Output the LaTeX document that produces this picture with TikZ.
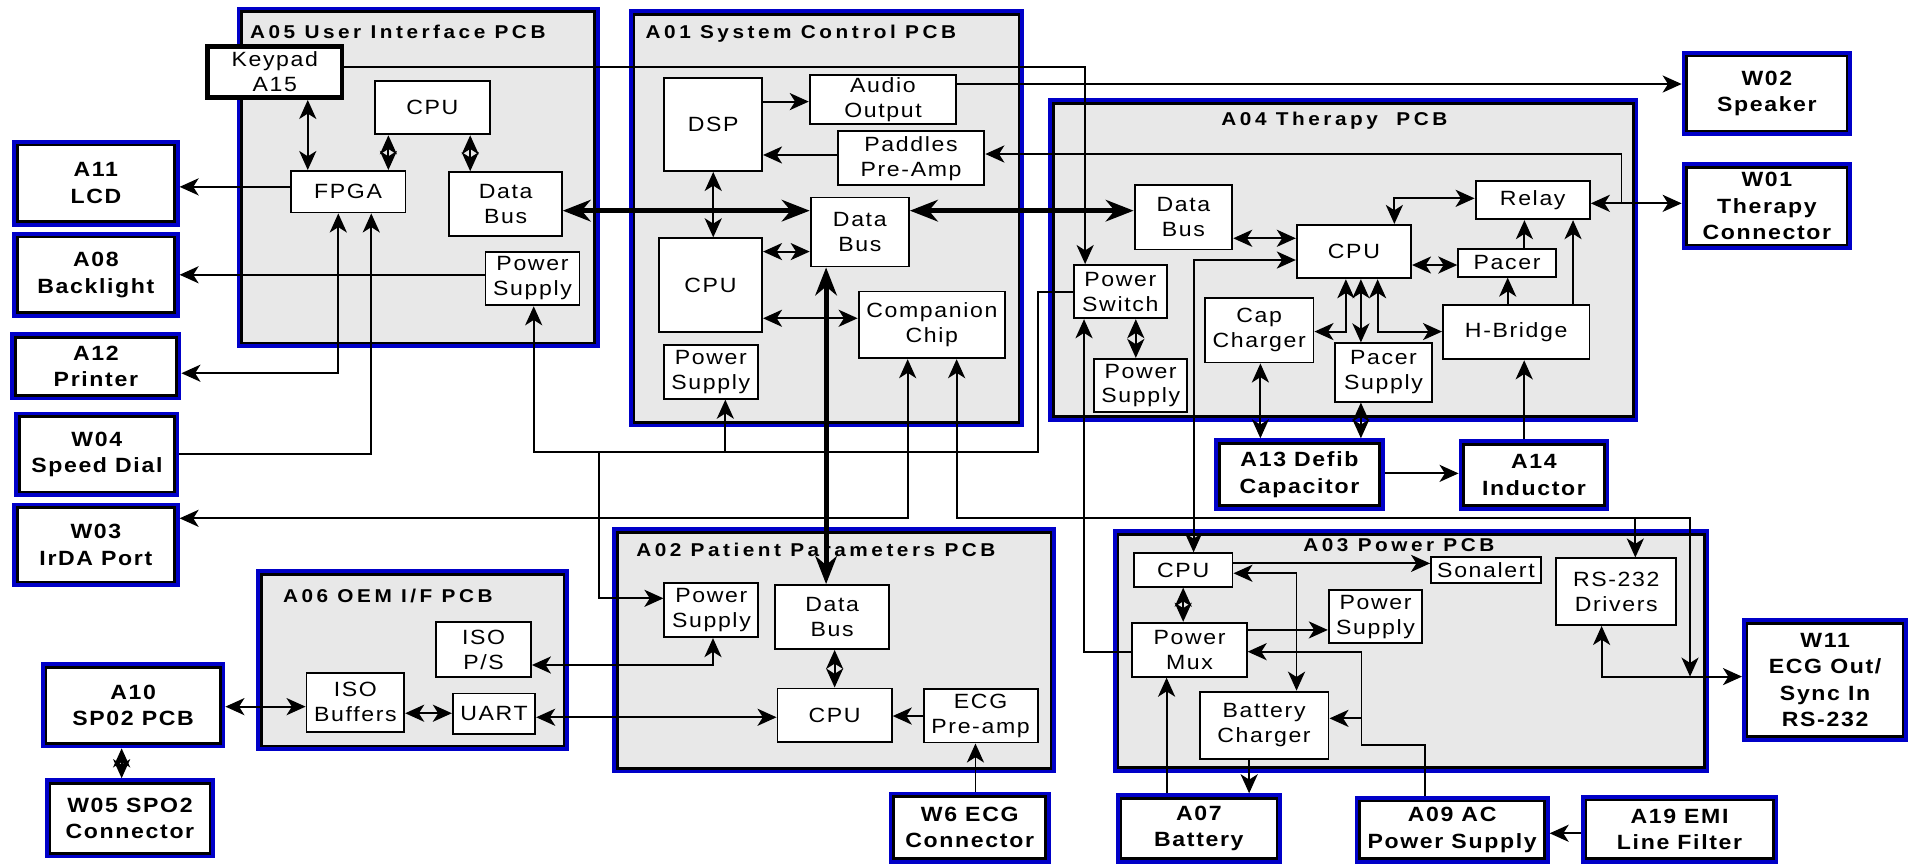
\documentclass[tikz,border=0pt]{standalone}
\usepackage{fontspec}
\setmainfont[FakeStretch=1.12,LetterSpace=8]{Liberation Sans}
\newfontfamily\ttlfont[FakeStretch=1.12,LetterSpace=19]{Liberation Sans}
\usetikzlibrary{arrows.meta}
\definecolor{pcbblue}{RGB}{0,0,200}
\definecolor{boardgray}{gray}{0.91}
\tikzset{
  sz/.style 2 args={
    minimum width = #1*0.25mm,
    minimum height = #2*0.25mm
  },
  fsz/.style 2 args={
    minimum width = (#1-3)*0.25mm,
    minimum height = (#2-3)*0.25mm
  },
}
\tikzset{
  blk/.style={
    shape = rectangle,
    draw,
    fill = white,
    line width = 1.1pt,
    inner sep = 0pt,
    align = center,
    font = \fontsize{12}{14.5}\selectfont
  },
  keypad/.style={
    blk,
    line width = 2.6pt
  },
  frame/.style={
    shape = rectangle,
    draw = pcbblue,
    line width = 2.2pt,
    inner sep = 0pt,
    path picture={\draw[draw=black,line width=5.2pt] (path picture bounding box.south west) rectangle (path picture bounding box.north east);}
  },
  board/.style={
    frame,
    fill = boardgray
  },
  ext/.style={
    frame,
    fill = white,
    align = center,
    font = \bfseries\fontsize{12}{15.5}\selectfont
  },
  ttl/.style={
    inner sep = 0pt,
    font = \ttlfont\bfseries\fontsize{10.8}{12}\selectfont
  },
  ln/.style={
    line width = 1.1pt,
    >={Stealth[length=3.9mm,width=3.5mm,inset=1.1mm]}
  },
  ar/.style={ln, ->},
  dar/.style={ln, <->},
  bus/.style={
    line width = 2.9pt,
    <->,
    >={Stealth[length=5.7mm,width=4.4mm,inset=1.8mm]}
  },
}

\begin{document}
\begin{tikzpicture}[x=0.25mm,y=-0.25mm]
\useasboundingbox (0,0) rectangle (1568,707);

% boards
\node[board, fsz={297.2}{279.5}] (a05) at (342.4,145.25) {};
\node[board, fsz={323.5}{342.3}] (a01) at (676.75,178.75) {};
\node[board, fsz={482.9}{264.7}] (a04) at (1099.95,212.85) {};
\node[board, fsz={363.5}{201.4}] (a02) at (683.05,532.5) {};
\node[board, fsz={256.2}{148.7}] (a06) at (337.9,540.55) {};
\node[board, fsz={488.2}{199.2}] (a03) at (1155.4,533) {};

\node[ttl, anchor=base west] (t05) at (204.5,31.4) {A05 User Interface PCB};
\node[ttl, anchor=base west] (t01) at (528.4,31.4) {A01 System Control PCB};
\node[ttl, anchor=base] (t04) at (1092.6,103.1) {A04 Therapy\ \ PCB};
\node[ttl, anchor=base west] (t02) at (520.7,455.3) {A02 Patient Parameters PCB};
\node[ttl, anchor=base west] (t06) at (231.5,493.2) {A06 OEM I/F PCB};
\node[ttl, anchor=base] (t03) at (1145.4,451.6) {A03 Power PCB};

% outside parts
\node[ext, fsz={137}{71}] (a11) at (78.5,150) {A11\\LCD};
\node[ext, fsz={137}{70}] (a08) at (78.5,225) {A08\\Backlight};
\node[ext, fsz={140}{55.5}] (a12) at (78.5,300) {A12\\Printer};
\node[ext, fsz={135}{70}] (w04) at (79.3,372) {W04\\Speed Dial};
\node[ext, fsz={137}{69}] (w03) at (78.5,446) {W03\\IrDA Port};
\node[ext, fsz={151}{70.4}] (a10) at (109,577.5) {A10\\SP02 PCB};
\node[ext, fsz={139}{65.5}] (w05) at (106.4,670) {W05 SPO2\\Connector};
\node[ext, fsz={139.4}{69.5}] (w02) at (1446.7,76.5) {W02\\Speaker};
\node[ext, fsz={139.4}{71.8}] (w01) at (1446.7,168.8) {W01\\Therapy\\Connector};
\node[ext, fsz={136}{101}] (w11) at (1494.4,556.8) {W11\\ECG Out/\\Sync In\\RS-232};
\node[ext, fsz={139.6}{59.2}] (a13) at (1064,388.5) {A13 Defib\\Capacitor};
\node[ext, fsz={123.4}{58.4}] (a14) at (1256,389) {A14\\Inductor};
\node[ext, fsz={132.7}{58.8}] (w6) at (794,677.6) {W6 ECG\\Connector};
\node[ext, fsz={136}{57.4}] (a07) at (981.6,678.3) {A07\\Battery};
\node[ext, fsz={159.6}{55.3}] (a09) at (1189,679.4) {A09 AC\\Power Supply};
\node[ext, fsz={161.6}{56}] (a19) at (1375.2,679) {A19 EMI\\Line Filter};

% A05
\node[keypad, sz={110}{42}] (k15) at (225,59) {Keypad\\A15};
\node[blk, sz={94}{44}] (a5cpu) at (354,88) {CPU};
\node[blk, sz={94}{34}] (a5fpga) at (285,157) {FPGA};
\node[blk, sz={92}{52}] (a5db) at (414,167) {Data\\Bus};
\node[blk, sz={77}{44}] (a5ps) at (436,228) {Power\\Supply};

% A01
\node[blk, sz={80}{76}] (dsp) at (584,102) {DSP};
\node[blk, sz={120}{40}] (audio) at (723,81.5) {Audio\\Output};
\node[blk, sz={120}{44}] (ppa) at (746,129.6) {Paddles\\Pre-Amp};
\node[blk, sz={80.5}{56.5}] (a1db) at (704,190) {Data\\Bus};
\node[blk, sz={84.6}{76.4}] (a1cpu) at (581.7,233.3) {CPU};
\node[blk, sz={120}{54.6}] (cc) at (763,266) {Companion\\Chip};
\node[blk, sz={77}{44}] (a1ps) at (582,304.5) {Power\\Supply};

% A04
\node[blk, sz={80}{52.6}] (a4db) at (969,178) {Data\\Bus};
\node[blk, sz={93.6}{43.7}] (a4cpu) at (1108.6,206) {CPU};
\node[blk, sz={93.6}{31}] (relay) at (1255,164) {Relay};
\node[blk, sz={80}{22.4}] (pacer) at (1234,215.3) {Pacer};
\node[blk, sz={76}{43.6}] (psw) at (917.3,238.8) {Power\\Switch};
\node[blk, sz={76}{43.7}] (a4ps) at (934,315.7) {Power\\Supply};
\node[blk, sz={89}{52.7}] (capch) at (1031,270.5) {Cap\\Charger};
\node[blk, sz={80}{47.7}] (pacsup) at (1132.8,305) {Pacer\\Supply};
\node[blk, sz={120}{44.5}] (hbr) at (1241.5,272) {H-Bridge};

% A02
\node[blk, sz={77}{44}] (a2ps) at (582.5,499.7) {Power\\Supply};
\node[blk, sz={93}{52.4}] (a2db) at (681.4,505.2) {Data\\Bus};
\node[blk, sz={93.6}{44}] (a2cpu) at (683.4,585.7) {CPU};
\node[blk, sz={93.3}{44}] (ecg) at (802.9,586) {ECG\\Pre-amp};

% A06
\node[blk, sz={77.5}{45}] (isops) at (396,532) {ISO\\P/S};
\node[blk, sz={80}{48}] (isobuf) at (291,575) {ISO\\Buffers};
\node[blk, sz={67.5}{33}] (uart) at (404.5,584.3) {UART};

% A03
\node[blk, sz={80.8}{27.4}] (a3cpu) at (968.8,466.7) {CPU};
\node[blk, sz={90}{21}] (sonal) at (1216.7,466.7) {Sonalert};
\node[blk, sz={76.6}{43.7}] (a3ps) at (1126.3,505) {Power\\Supply};
\node[blk, sz={93.6}{44.2}] (pmux) at (974,532) {Power\\Mux};
\node[blk, sz={105.6}{55.4}] (batch) at (1035,594) {Battery\\Charger};
\node[blk, sz={98}{54.5}] (rs232) at (1323.4,484.5) {RS-232\\Drivers};

% A05 links
\draw[dar] (k15.south -| 252,0) -- (a5fpga.north -| 252,0);
\draw[dar] (a5cpu.south -| 318,0) -- (a5fpga.north -| 318,0);
\draw[dar] (a5cpu.south -| 385,0) -- (a5db.north -| 385,0);
\draw[ar] (a5fpga.west |- 0,153) -- (a11.east |- 0,153);
\draw[ar] (a5ps.west |- 0,225) -- (a08.east |- 0,225);
\draw[dar] (a5fpga.south -| 277,0) |- (a12.east |- 0,305.6);
\draw[ar] (w04.east |- 0,371.7) -| (a5fpga.south -| 304,0);
\draw[ar] (k15.east |- 0,54.6) -| (psw.north -| 888.5,0);

% data bus
\draw[bus] (a5db.east |- 0,172.5) -- (a1db.west |- 0,172.5);
\draw[bus] (a1db.east |- 0,172.5) -- (a4db.west |- 0,172.5);
\draw[bus] (a1db.south -| 676.4,0) -- (a2db.north -| 676.4,0);

% A01 links
\draw[ar] (dsp.east |- 0,83.2) -- (audio.west |- 0,83.2);
\draw[ar] (ppa.west |- 0,126.9) -- (dsp.east |- 0,126.9);
\draw[dar] (dsp.south -| 584,0) -- (a1cpu.north -| 584,0);
\draw[dar] (a1cpu.east |- 0,206) -- (a1db.west |- 0,206);
\draw[dar] (a1cpu.east |- 0,260.6) -- (cc.west |- 0,260.6);
\draw[ar] (audio.east |- 0,68.8) -- (w02.west |- 0,68.8);
\coordinate (rj) at (1327.7,166.5);
\draw[ar] (rj) |- (ppa.east |- 0,126.1);
\draw[dar] (relay.east |- rj) -- (w01.west |- rj);

% A04 links
\draw[dar] (a4db.east |- 0,195.1) -- (a4cpu.west |- 0,195.1);
\draw[dar] (a4cpu.north -| 1141.7,0) |- (relay.west |- 0,162.4);
\draw[dar] (a4cpu.east |- 0,217) -- (pacer.west |- 0,217);
\draw[ar] (hbr.north -| 1234.5,0) -- (pacer.south -| 1234.5,0);
\draw[ar] (pacer.north -| 1248.2,0) -- (relay.south -| 1248.2,0);
\draw[ar] (hbr.north -| 1288,0) -- (relay.south -| 1288,0);
\draw[dar] (a4cpu.south -| 1102,0) |- (capch.east |- 0,271.5);
\draw[dar] (a4cpu.south -| 1114.3,0) -- (pacsup.north -| 1114.3,0);
\draw[dar] (a4cpu.south -| 1128,0) |- (hbr.west |- 0,271.5);
\draw[dar] (capch.south -| 1032,0) -- (a13.north -| 1032,0);
\draw[dar] (pacsup.south -| 1114.3,0) -- (a13.north -| 1114.3,0);
\draw[ar] (a14.north -| 1248,0) -- (hbr.south -| 1248,0);
\draw[ar] (a13.east |- 0,387.6) -- (a14.west |- 0,387.6);
\draw[dar] (psw.south -| 930,0) -- (a4ps.north -| 930,0);
\draw[dar] (a4cpu.west |- 0,212.9) -| (a3cpu.north -| 977.3,0);

% power feed
\coordinate (pn) at (849.8,369.8);
\draw[ar] (psw.west |- 0,238.8) -| (pn) -| (a5ps.south -| 437,0);
\draw[ar] (pn -| 593.9,0) -- (a1ps.south -| 593.9,0);
\draw[ar] (pn -| 490.5,0) |- (a2ps.west |- 0,489.9);
\draw[ar] (pmux.west |- 0,533.6) -| (psw.south -| 887.6,0);

% companion chip
\coordinate (sj) at (1383.8,554);
\coordinate (rb) at (1339,424.4);
\draw[dar] (cc.south -| 743.2,0) |- (w03.east |- rb);
\draw[dar] (cc.south -| 783.3,0) |- (sj |- rb) -- (sj);
\draw[ar] (rb) -- (rs232.north -| rb);
\draw[dar] (rs232.south -| 1311.4,0) |- (w11.west |- sj);

% A02 links
\draw[dar] (a2db.south -| 683.4,0) -- (a2cpu.north -| 683.4,0);
\draw[ar] (ecg.west |- 0,586.3) -- (a2cpu.east |- 0,586.3);
\draw[ar] (w6.north -| 798.7,0) -- (ecg.south -| 798.7,0);
\draw[dar] (a2ps.south -| 583.8,0) |- (isops.east |- 0,544.5);
\draw[dar] (uart.east |- 0,587.3) -- (a2cpu.west |- 0,587.3);

% A06 links
\draw[dar] (isobuf.east |- 0,584) -- (uart.west |- 0,584);
\draw[dar] (a10.east |- 0,578.6) -- (isobuf.west |- 0,578.6);
\draw[dar] (a10.south -| 99.6,0) -- (w05.north -| 99.6,0);

% A03 links
\coordinate (aj) at (1114.8,588.2);
\draw[ar] (a3cpu.east |- 0,461.3) -- (sonal.west |- 0,461.3);
\draw[dar] (a3cpu.south -| 968.8,0) -- (pmux.north -| 968.8,0);
\draw[ar] (pmux.east |- 0,515.8) -- (a3ps.west |- 0,515.8);
\draw[dar] (a3cpu.east |- 0,469.4) -| (batch.north -| 1061.6,0);
\draw[ar] (a09.north -| 1166.7,0) |- (aj |- 0,610) |- (pmux.east |- 0,533.6);
\draw[ar] (aj) -- (batch.east |- aj);
\draw[ar] (batch.south -| 1022.8,0) -- (a07.north -| 1022.8,0);
\draw[ar] (a07.north -| 955.2,0) -- (pmux.south -| 955.2,0);
\draw[ar] (a19.west |- 0,682.3) -- (a09.east |- 0,682.3);

\end{tikzpicture}
\end{document}
